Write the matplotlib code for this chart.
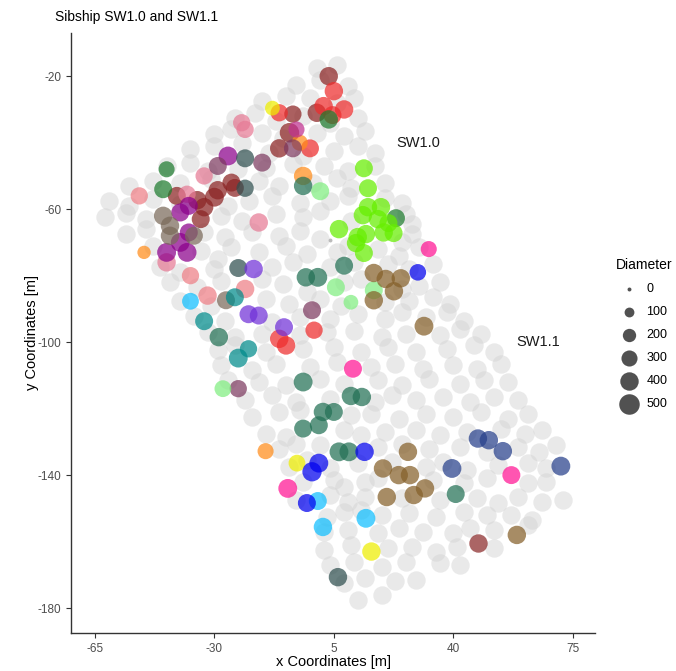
import matplotlib.pyplot as plt

plt.rcParams['font.family'] = ['Liberation Sans', 'DejaVu Sans']
plt.rcParams['axes.unicode_minus'] = False

# all other trees of the stand (grey), x / y in m
grey_pts = [
    (0, -17.5), (6, -16.5),
    (-6, -22.5), (1, -21), (9, -23),
    (-16, -27.5), (-9, -26), (-2, -26.5), (6, -28), (11, -26.5),
    (-24, -32.5), (-18, -31), (-12, -33.5), (-4, -32), (4, -34), (12, -32.5),
    (-30, -37.5), (-25, -36), (-16, -37), (-10, -38.5), (0, -37), (8, -38), (14, -36.5),
    (-37, -42), (-30, -41), (-22, -40), (-14, -43), (-4, -44), (5, -42.5), (12, -41), (17, -43),
    (-44, -47), (-37, -46), (-32, -48.5), (-23, -48), (-15, -47.5), (-7, -46.5), (2, -47),
    (9, -48.5), (17, -47),
    (-55, -53), (-48, -51.5), (-40, -52), (-31, -51), (-17, -51.5), (-11, -53), (-1, -52),
    (6, -50.5), (10, -53.5), (20, -52),
    (-61, -57.5), (-55, -59), (-48, -57), (-40, -58.5), (-26, -59), (-20, -57.5), (-13, -56),
    (-5, -58), (4, -57.5), (9, -56), (20, -56.5), (25, -58),
    (-62, -62.5), (-56, -61), (-50, -63), (-28, -62), (-22, -63.5), (-12, -61.5), (-4, -62.5),
    (1, -60.5), (10, -63.5), (26, -61.5), (28, -64.5),
    (-56, -67.5), (-50, -66), (-33, -67), (-27, -68.5), (-19, -67), (-11, -68), (-5, -66.5),
    (1, -69), (9, -71), (25, -70), (28, -67.5),
    (-48, -71), (-34, -72.5), (-29, -75), (-25, -71.5), (-17, -73), (-9, -71), (-3, -73.5),
    (6, -73), (18, -72), (24, -74), (30, -71.5),
    (-46, -77.5), (-40, -79), (-30, -78), (-13, -77.5), (-7, -76), (4, -77.5), (11, -76),
    (21, -76.5), (27, -78), (34, -76.5),
    (-43, -82), (-35, -83.5), (-28, -81.5), (-16, -81), (-10, -82.5), (-3, -85), (8, -82),
    (13, -81), (25, -84), (30, -83), (36, -82),
    (-40, -87.5), (-31, -89), (-15, -87), (-8, -88.5), (1, -87), (7, -89), (20, -88),
    (27, -87.5), (34, -86.5), (39, -88.5),
    (-36, -92), (-27, -93.5), (-13, -94), (-5, -92.5), (4, -93), (12, -91.5), (20, -93),
    (25, -91), (32, -92.5), (38, -91), (43, -93.5),
    (-32, -97), (-24, -98.5), (-16, -97.5), (-5, -98), (3, -97), (11, -96.5), (19, -98.5),
    (26, -97.5), (36, -98), (42, -96), (48, -97.5),
    (-29, -102.5), (-24, -101), (-15, -103), (-4, -102), (5, -101.5), (13, -103), (21, -101.5),
    (29, -103), (38, -102), (46, -101), (52, -103),
    (-28, -107), (-19, -108.5), (-12, -106.5), (-2, -107.5), (6, -106), (16, -107.5),
    (23, -106.5), (31, -108), (40, -107), (47, -108), (54, -106.5),
    (-26, -111.5), (-17, -112), (-9, -113), (1, -111), (8, -112.5), (18, -111.5), (25, -113),
    (33, -111), (42, -112.5), (49, -111.5), (56, -112),
    (-21, -117.5), (-13, -116), (-6, -118), (4, -117), (17, -118), (22, -116), (29, -117.5),
    (37, -116.5), (45, -118), (52, -116.5), (59, -117.5),
    (-19, -122.5), (-11, -121), (-5, -120.5), (10, -122), (16, -121.5), (24, -123),
    (32, -121.5), (40, -122.5), (48, -121), (56, -123), (62, -121.5),
    (-15, -127.5), (-9, -128.5), (8, -126.5), (13, -128), (20, -127), (29, -126.5), (36, -128),
    (44, -127), (54, -126), (61, -127.5), (66, -126.5),
    (-11, -132), (-6, -130.5), (1, -131), (18, -131.5), (25, -130.5), (33, -132), (42, -131.5),
    (50, -133), (59, -131.5), (65, -133), (70, -131),
    (-8, -137.5), (-3, -135.5), (4, -138), (12, -136.5), (22, -136), (32, -137.5), (37, -136),
    (44, -138.5), (53, -137), (62, -136.5), (67, -138),
    (-4, -142), (5, -141.5), (8, -143.5), (14, -142), (18, -141), (34, -141.5), (43, -142.5),
    (50, -141), (62, -142.5), (67, -142),
    (-6, -147.5), (4, -146), (9, -148), (14, -146.5), (25, -147), (36, -147.5), (47, -147),
    (53, -148.5), (59, -146.5), (66, -148), (72, -147.5),
    (3, -152.5), (8, -151), (13, -150.5), (19, -152), (27, -151.5), (35, -152.5), (43, -151),
    (50, -152), (57, -152), (63, -153.5),
    (2, -157), (9, -156.5), (18, -157.5), (24, -156), (31, -157), (40, -157.5), (45, -156),
    (52, -156.5), (62, -155),
    (2, -162.5), (10, -161), (21, -162), (28, -161.5), (35, -163), (41, -161.5), (52, -162),
    (4, -167), (11, -166), (19, -167.5), (26, -166), (36, -166.5), (42, -167),
    (8, -172.5), (14, -171), (23, -172), (29, -171.5),
    (12, -177.5), (19, -176),
]
grey_d = 400
tiny_pts = [(4, -69.3)]  # diameter 0

# trees of the two sibships, grouped by genotype colour: (x, y, diameter)
sib_pts = {
    'darkred': [(3.5, -20, 400), (-7, -31.4, 350), (0, -31, 400), (-8, -37, 450), (-11, -41.7, 400),
                (-41, -56, 380), (-35, -57.3, 400), (-33, -59.4, 400), (-30, -56.4, 420),
                (-29, -54.3, 400), (-25, -52, 380), (-24, -53.6, 380), (-34, -63, 380)],
    'red': [(5, -24.5, 400), (-11, -31, 350), (2, -29, 400), (8, -30, 400), (4.6, -31.7, 380),
            (-2, -41.7, 380), (-11, -99, 400), (-9, -101, 400), (-0.8, -96.4, 350)],
    'salmon': [(-52, -56, 350), (-37, -80, 350), (-32, -86, 400), (-21, -84, 400)],
    'pink': [(-22, -34, 350), (-21, -36, 350), (-33, -50, 350), (-38, -55.5, 350),
             (-17, -64, 400), (-44, -76, 400)],
    'yellow': [(-13, -29.6, 250), (-5.8, -136.4, 330), (16, -163, 400)],
    'forestgreen': [(3.5, -33, 400), (-44, -48, 300), (-45, -54, 380), (23.2, -62.7, 380)],
    'orange': [(-5, -40, 300), (-4, -50, 400), (-50.6, -73, 200), (-15, -132.8, 300)],
    'magenta': [(-6, -36, 300)],
    'darkmagenta': [(-26, -44, 420), (-40, -61, 380), (-37.5, -59, 380), (-37.5, -67, 380),
                    (-44, -73, 420), (-40, -70, 420), (-38, -73, 420)],
    'mauve': [(-7, -41.7, 380), (-16, -46, 380), (-29, -47, 380), (-1.4, -90.4, 380),
              (-23, -114, 350)],
    'darkslate': [(-21, -44.7, 380), (-21, -53.7, 350), (-23, -77.7, 380), (6.2, -170.7, 400)],
    'taupe': [(-45, -62, 400), (-43, -65, 400), (-43, -68, 400), (-36, -68, 380),
              (-26.6, -87.4, 380)],
    'mediumpurple': [(-18.5, -78, 400), (-20, -91.6, 380), (-17, -92, 380), (-9.6, -95.5, 380)],
    'teal': [(-24, -86.5, 380), (-33, -93.7, 380), (-23, -104.8, 420), (-20, -102, 350)],
    'seagreen': [(-4, -53, 400), (-28.7, -98.5, 400), (-4, -112, 420), (0.3, -80.5, 420),
                 (-3.2, -80.5, 400), (8, -77, 380), (1.8, -121, 400), (5, -121, 380),
                 (0.6, -125, 380), (-4, -126, 380), (10, -116.2, 400), (13.2, -116.5, 400),
                 (6.5, -133, 420), (9.4, -133, 420), (40.7, -145.7, 380)],
    'lightgreen': [(1, -54.6, 380), (-27.5, -114, 330), (5.6, -83.5, 380), (16.7, -84.4, 380),
                   (10, -88, 250)],
    'lime': [(13.8, -47.7, 380), (15, -53.7, 380), (15, -59.4, 400), (18.8, -59.4, 400),
             (13.5, -61.8, 400), (17.9, -63, 400), (21, -64.2, 380), (6.5, -66, 400),
             (11.5, -70.2, 400), (14.4, -67.5, 400), (19.6, -67, 400), (22.5, -67.2, 380),
             (13.8, -73.2, 380), (12, -68.4, 400)],
    'deepskyblue': [(-37, -87.7, 330), (0.3, -147.8, 380), (1.8, -155.6, 400), (14.4, -153, 420)],
    'blue': [(29.6, -79, 320), (0.6, -136.4, 420), (-1.4, -139, 440), (-2.9, -148.4, 380),
             (14, -133, 400)],
    'hotpink': [(32.8, -72, 300), (10.6, -108, 380), (-8.5, -144, 420), (57, -140, 380)],
    'tanbrown': [(16.7, -79.2, 400), (20.2, -81, 400), (24.6, -80.8, 400), (22.6, -84.7, 400),
                 (16.7, -87.4, 400), (31.4, -95.2, 420), (26.7, -133, 400), (19.4, -138, 400),
                 (24, -140, 400), (27.3, -140, 400), (31.7, -144, 400), (28.4, -146, 400),
                 (20.5, -146.6, 400), (58.6, -158, 400)],
    'steelblue': [(39.6, -138, 420), (47.2, -129, 400), (50.4, -129.5, 400), (54.5, -132.8, 400),
                  (71.5, -137.3, 420)],
    'indianred': [(47.2, -160.4, 400)],
}
sib_colors = {
    'darkred': '#8B2323', 'red': '#EE2C2C', 'salmon': '#EE7E86', 'pink': '#E67A95',
    'yellow': '#EEEE00', 'forestgreen': '#1E7B2E', 'orange': '#FF8C1A', 'magenta': '#C0308F',
    'darkmagenta': '#8B008B', 'mauve': '#7D3A60', 'darkslate': '#2F4F4F', 'taupe': '#7A6A5A',
    'mediumpurple': '#7030D8', 'teal': '#008B8B', 'seagreen': '#237155', 'lightgreen': '#80EE80',
    'lime': '#66EE00', 'deepskyblue': '#10BFFF', 'blue': '#0000EE', 'hotpink': '#FF1493',
    'tanbrown': '#85602A', 'steelblue': '#27408B', 'indianred': '#8B2A2A',
}
labels_xy = {'SW1.0': (29.6, -40.1), 'SW1.1': (64.8, -100)}
legend_vals = [0, 100, 200, 300, 400, 500]


def size(d):
    # diameter -> marker area (pt^2), area grows linearly like ggplot's scale_size
    return 8 + 0.42 * d


fig = plt.figure(figsize=(6.76, 6.71), dpi=100)
ax = fig.add_axes([71 / 676, 1 - 633 / 671, (595 - 71) / 676, (633 - 33) / 671])

gx = [p[0] for p in grey_pts]
gy = [p[1] for p in grey_pts]
ax.scatter(gx, gy, s=size(grey_d), color='#D2D2D2', alpha=0.48, linewidths=0, zorder=1)
ax.scatter([p[0] for p in tiny_pts], [p[1] for p in tiny_pts], s=size(0),
           color='#BBBBBB', linewidths=0, zorder=1)

for grp, pts in sib_pts.items():
    ax.scatter([p[0] for p in pts], [p[1] for p in pts], s=[size(p[2]) for p in pts],
               color=sib_colors[grp], alpha=0.72, linewidths=0, zorder=2)

for txt, (tx, ty) in labels_xy.items():
    ax.text(tx, ty, txt, fontsize=10.5, ha='center', va='center', color='#1A1A1A')

ax.set_xlim(-72, 81.5)
ax.set_ylim(-187.5, -7)
ax.set_xticks([-65, -30, 5, 40, 75])
ax.set_yticks([-20, -60, -100, -140, -180])
for side in ['top', 'right']:
    ax.spines[side].set_visible(False)
for side in ['left', 'bottom']:
    ax.spines[side].set_linewidth(1.0)
    ax.spines[side].set_color('#333333')
ax.tick_params(length=3.5, width=0.8, color='#333333', labelcolor='#4D4D4D', labelsize=8.5)

ax.set_xlabel('x Coordinates [m]', fontsize=10.5, labelpad=0.5)
ax.set_ylabel('y Coordinates [m]', fontsize=10.5)
ax.yaxis.set_label_coords(-0.062, 0.5)
fig.text(55 / 676, 1 - 17 / 671, 'Sibship SW1.0 and SW1.1', fontsize=10, ha='left', va='center')

handles = [ax.scatter([], [], s=size(v), color='#333333', alpha=0.85, linewidths=0)
           for v in legend_vals]
leg = fig.legend(handles, [str(v) for v in legend_vals], title='Diameter', frameon=False,
                 loc='upper left', bbox_to_anchor=(610 / 676, 1 - 252 / 671),
                 fontsize=9, title_fontsize=10, labelspacing=0.88, handletextpad=0.4,
                 borderpad=0, alignment='left', scatterpoints=1)

fig.savefig('out.png', dpi=100)
